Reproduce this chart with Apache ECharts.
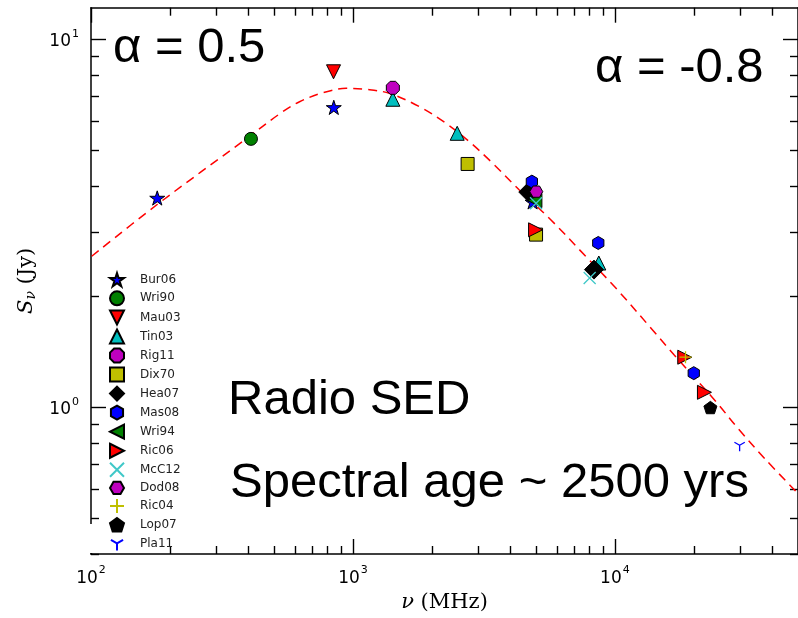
<!DOCTYPE html>
<html><head><meta charset="utf-8">
<script src="https://cdn.jsdelivr.net/npm/echarts@6/dist/echarts.min.js"></script>
<style>html,body{margin:0;padding:0;background:#fff}#c{width:798px;height:618px}</style>
</head><body><div id="c"></div>
<script>
// ---- tick values ----
const xTicksMajor = [100, 1000, 10000];
const xTicksMinor = [200, 300, 400, 500, 600, 700, 800, 900, 2000, 3000, 4000, 5000, 6000, 7000, 8000, 9000, 20000, 30000, 40000];
const yTicksMajor = [1, 10];
const yTicksMinor = [0.4, 0.5, 0.6, 0.7, 0.8, 0.9, 2, 3, 4, 5, 6, 7, 8, 9];

// ---- model curve ----
const modelX = [100.6, 178.4, 386, 532.6, 625.5, 767.4, 942.2, 1123, 1377, 1792, 2265, 2779, 3361, 4308, 5689, 7733, 10060, 13870, 16780, 24190, 29680, 37500, 48940];
const modelY = [2.576, 3.556, 5.335, 6.326, 6.775, 7.166, 7.366, 7.32, 7.14, 6.57, 5.92, 5.28, 4.66, 3.905, 3.238, 2.576, 2.115, 1.630, 1.394, 1.042, 0.873, 0.724, 0.593];

// ---- measurements ----
const bur06X = [179, 845, 4850];      const bur06Y = [3.71, 6.54, 3.62];
const wri90X = [408];                 const wri90Y = [5.37];
const mau03X = [843];                 const mau03Y = [8.17];
const tin03X = [1420, 2500, 8680];    const tin03Y = [6.88, 5.56, 2.47];
const rig11X = [1420];                const rig11Y = [7.39];
const dix70X = [2740, 5000];          const dix70Y = [4.59, 2.95];
const hea07X = [4670, 8320];          const hea07Y = [3.85, 2.37];
const mas08X = [4820, 8640, 20000];   const mas08Y = [4.11, 2.80, 1.24];
const wri94X = [4950];                const wri94Y = [3.65];
const ric06X = [4980, 18480, 21970];  const ric06Y = [3.04, 1.37, 1.10];
const mcc12X = [5000, 8010];          const mcc12Y = [3.59, 2.25];
const dod08X = [5010];                const dod08Y = [3.86];
const ric04X = [18600];               const ric04Y = [1.37];
const lop07X = [23150];               const lop07Y = [1.00];
const pla11X = [29930];               const pla11Y = [0.79];

const pts = (xs, ys) => xs.map((x, i) => [x, ys[i]]);

const P = {
  star: 'path://M0,-1L0.2245,-0.309L0.9511,-0.309L0.3633,0.118L0.5878,0.809L0,0.382L-0.5878,0.809L-0.3633,0.118L-0.9511,-0.309L-0.2245,-0.309Z',
  tdown: 'path://M0,0L2,0L1,2Z',
  tup: 'path://M1,0L2,2L0,2Z',
  tleft: 'path://M0,1L2,0L2,2Z',
  tright: 'path://M0,0L2,1L0,2Z',
  oct: 'path://M0.3827,-0.9239L0.9239,-0.3827L0.9239,0.3827L0.3827,0.9239L-0.3827,0.9239L-0.9239,0.3827L-0.9239,-0.3827L-0.3827,-0.9239Z',
  hex1: 'path://M0,-1L0.866,-0.5L0.866,0.5L0,1L-0.866,0.5L-0.866,-0.5Z',
  hex2: 'path://M1,0L0.5,0.866L-0.5,0.866L-1,0L-0.5,-0.866L0.5,-0.866Z',
  pent: 'path://M0,-1L0.9511,-0.309L0.5878,0.809L-0.5878,0.809L-0.9511,-0.309Z',
  diam: 'path://M0,-1L1,0L0,1L-1,0Z',
  sq: 'path://M0,0L2,0L2,2L0,2Z',
  x: 'path://M-1,-1L1,1M1,-1L-1,1',
  plus: 'path://M0,-1L0,1M-1,0L1,0',
  tri1: 'path://M0,-1M0,0L0,1M0,0L0.866,-0.5M0,0L-0.866,-0.5'
};

function filled(name, data, symbol, size, color) {
  return { type: 'scatter', name, data, symbol, symbolSize: size, symbolKeepAspect: true, z: 3,
    itemStyle: { color, borderColor: '#000', borderWidth: 1, opacity: 1 } };
}
function stroked(name, data, symbol, size, color) {
  return { type: 'scatter', name, data, symbol, symbolSize: size, symbolKeepAspect: true, z: 4,
    itemStyle: { color: 'rgba(0,0,0,0)', borderColor: color, borderWidth: 1.3, opacity: 1 } };
}

const series = [
  { type: 'line', name: 'model', data: pts(modelX, modelY), smooth: 0.35, showSymbol: false, z: 2,
    lineStyle: { color: '#ff0000', width: 1.5, type: [9, 6] }, silent: true },
  filled('Bur06', pts(bur06X, bur06Y), P.star, 15, '#0000ff'),
  filled('Wri90', pts(wri90X, wri90Y), 'circle', 13, '#008000'),
  filled('Mau03', pts(mau03X, mau03Y), P.tdown, 14, '#ff0000'),
  filled('Tin03', pts(tin03X, tin03Y), P.tup, 14, '#00bfbf'),
  filled('Rig11', pts(rig11X, rig11Y), P.oct, 13, '#bf00bf'),
  filled('Dix70', pts(dix70X, dix70Y), P.sq, 13, '#bfbf00'),
  filled('Hea07', pts(hea07X, hea07Y), P.diam, 19, '#000000'),
  filled('Mas08', pts(mas08X, mas08Y), P.hex1, 13, '#0000ff'),
  filled('Wri94', pts(wri94X, wri94Y), P.tleft, 14, '#008000'),
  filled('Ric06', pts(ric06X, ric06Y), P.tright, 14, '#ff0000'),
  stroked('McC12', pts(mcc12X, mcc12Y), P.x, 12, '#40c8c8'),
  filled('Dod08', pts(dod08X, dod08Y), P.hex2, 13, '#bf00bf'),
  stroked('Ric04', pts(ric04X, ric04Y), P.plus, 12, '#bfbf00'),
  filled('Lop07', pts(lop07X, lop07Y), P.pent, 13, '#000000'),
  stroked('Pla11', pts(pla11X, pla11Y), P.tri1, 12, '#0000ff')
];

const XMIN = 100, XMAX = 50000, YMIN = 0.4, YMAX = 12.2;
const lblRich = {
  b: { fontFamily: 'DejaVu Sans', fontSize: 17, color: '#000', verticalAlign: 'bottom', padding: [5, 0, 0, 0] },
  s: { fontFamily: 'DejaVu Sans', fontSize: 11, color: '#000', verticalAlign: 'top', padding: [0, 0, 0, 1] }
};
const fmt = v => '{b|10}{s|' + Math.round(Math.log10(v)) + '}';

function ax(kind, pos, ticks, len, opts) {
  const o = {
    type: 'log', logBase: 10, position: pos,
    min: kind === 'x' ? XMIN : YMIN, max: kind === 'x' ? XMAX : YMAX,
    axisLine: { show: !!opts.line, onZero: false, lineStyle: { color: '#000', width: 1.5 } },
    axisTick: { show: true, inside: true, length: len, customValues: ticks, lineStyle: { color: '#000', width: 1.4 } },
    axisLabel: { show: !!opts.label },
    splitLine: { show: false }, minorTick: { show: false }, minorSplitLine: { show: false }
  };
  if (opts.label) {
    o.axisLabel = { show: true, customValues: ticks, formatter: fmt, rich: lblRich, margin: opts.margin };
  }
  if (opts.name) {
    Object.assign(o, opts.name);
  }
  return o;
}

const option = {
  animation: false,
  backgroundColor: '#fff',
  grid: { left: 91, top: 7.7, width: 708.5, height: 547.3, containLabel: false, show: false },
  xAxis: [
    ax('x', 'bottom', xTicksMajor, 15, { line: true, label: true, margin: 11,
      name: { name: '{i|ν} (MHz)', nameLocation: 'middle', nameGap: 38,
        nameTextStyle: { fontFamily: 'DejaVu Serif', fontSize: 21, color: '#000',
          rich: { i: { fontFamily: 'DejaVu Serif', fontStyle: 'italic', fontSize: 21, color: '#000' } } } } }),
    ax('x', 'bottom', xTicksMinor, 8, {}),
    ax('x', 'top', xTicksMajor, 15, { line: true }),
    ax('x', 'top', xTicksMinor, 8, {})
  ],
  yAxis: [
    ax('y', 'left', yTicksMajor, 15, { line: true, label: true, margin: 12,
      name: { name: '{i|S}{sub|ν} (Jy)', nameLocation: 'middle', nameGap: 53, nameRotate: 90,
        nameTextStyle: { fontFamily: 'DejaVu Serif', fontSize: 21, color: '#000',
          rich: { i: { fontFamily: 'DejaVu Serif', fontStyle: 'italic', fontSize: 21, color: '#000' },
                  sub: { fontFamily: 'DejaVu Serif', fontStyle: 'italic', fontSize: 14, color: '#000', verticalAlign: 'bottom', padding: [8, 0, 0, 0] } } } } }),
    ax('y', 'left', yTicksMinor, 8, {}),
    ax('y', 'right', yTicksMajor, 15, { line: true }),
    ax('y', 'right', yTicksMinor, 8, {})
  ],
  legend: {
    orient: 'vertical', left: 109, top: 272, padding: 0,
    itemWidth: 14, itemHeight: 14, itemGap: 3.05,
    data: ['Bur06', 'Wri90', 'Mau03', 'Tin03', 'Rig11', 'Dix70', 'Hea07', 'Mas08', 'Wri94', 'Ric06', 'McC12', 'Dod08', 'Ric04', 'Lop07', 'Pla11'],
    textStyle: { fontFamily: 'DejaVu Sans', fontSize: 12, lineHeight: 14, color: '#222', padding: [0, 0, 0, 11] },
    selectedMode: false
  },
  graphic: [
    { type: 'text', left: 113, top: 24, style: { text: 'α = 0.5', font: '49px "Liberation Sans"', fill: '#000' } },
    { type: 'text', left: 595, top: 44, style: { text: 'α = -0.8', font: '49px "Liberation Sans"', fill: '#000' } },
    { type: 'text', left: 228, top: 376, style: { text: 'Radio SED', font: '49px "Liberation Sans"', fill: '#000' } },
    { type: 'text', left: 230, top: 459, style: { text: 'Spectral age ~ 2500 yrs', font: '49px "Liberation Sans"', fill: '#000' } },
    { type: 'rect', left: 87, top: 524, z: 100, shape: { width: 9, height: 29 }, style: { fill: '#fff' } }
  ],
  series
};
series.forEach(s => { s.xAxisIndex = 0; s.yAxisIndex = 0; });

const chart = echarts.init(document.getElementById('c'), null, { renderer: 'canvas' });
chart.setOption(option);
</script>
</body></html>
